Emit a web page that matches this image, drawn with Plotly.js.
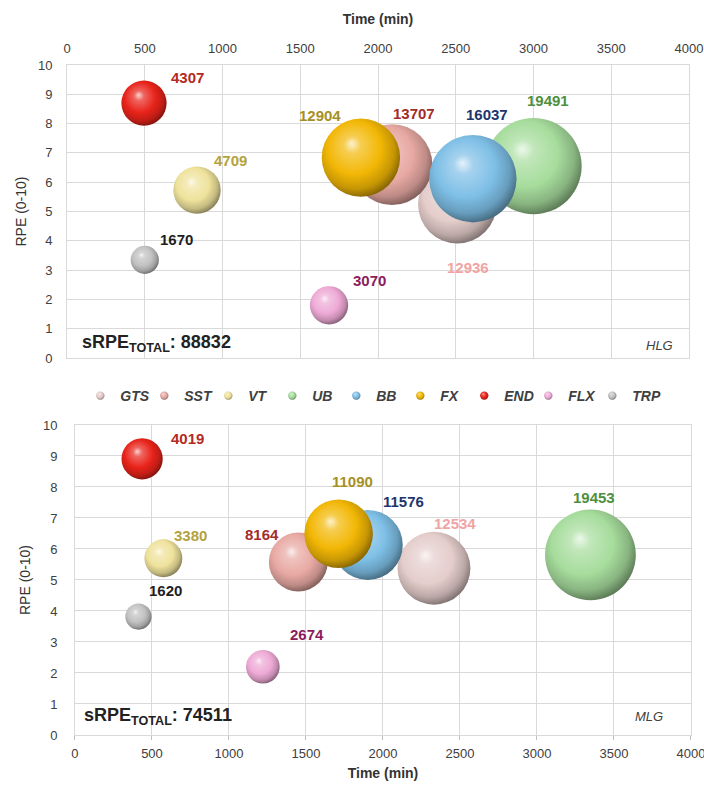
<!DOCTYPE html>
<html>
<head>
<meta charset="utf-8">
<script src="https://cdn.plot.ly/plotly-3.0.1.min.js"></script>
<style>
html, body { margin: 0; padding: 0; background: #ffffff; }
#chart { width: 704px; height: 787px; }
</style>
</head>
<body>
<div id="chart"></div>
<script>
// ---------- data ----------
const categories = ['GTS', 'SST', 'VT', 'UB', 'BB', 'FX', 'END', 'FLX', 'TRP'];

// HLG (top panel)
const hlgTime = [2510, 2090, 836, 3000, 2610, 1890, 495, 1685, 500];
const hlgRPE  = [5.25, 6.6, 5.73, 6.55, 6.12, 6.84, 8.7, 1.8, 3.35];
const hlgSRPE = [12936, 13707, 4709, 19491, 16037, 12904, 4307, 3070, 1670];
const hlgTotal = 88832;

// MLG (bottom panel)
const mlgTime = [2331, 1450, 574, 3347, 1901, 1712, 436, 1220, 412];
const mlgRPE  = [5.38, 5.58, 5.7, 5.81, 6.13, 6.49, 8.91, 2.2, 3.82];
const mlgSRPE = [12534, 8164, 3380, 19453, 11576, 11090, 4019, 2674, 1620];
const mlgTotal = 74511;

const groupNames = ['HLG', 'MLG'];
const xTitle = 'Time (min)';
const yTitle = 'RPE (0-10)';

// ---------- styles ----------
const FONT = '"Liberation Sans", Arial, sans-serif';
const baseColors  = ['#e4cdcb', '#e8a9a3', '#efe29c', '#a6dc9c', '#7ebfe6', '#f2b705', '#e8231a', '#eeaad6', '#c2c2c2'];
const labelColors = ['#f2a3a3', '#a22b2b', '#b5a23c', '#4e8f3e', '#22356b', '#a69024', '#b32b23', '#8c1c5c', '#1e1e1e'];
// label offsets in px [xshift, yshift] relative to bubble centre
const hlgLabelShift = [[11, -63], [22, 51], [33, 30], [14, 66], [14, 64], [-41, 42], [44, 26], [40, 25], [32, 20]];
const mlgLabelShift = [[21, 45], [-36, 28], [27, 23], [4, 57], [36, 43], [14, 52], [45, 20], [44, 32], [27, 26]];

function bubbleTraces(times, rpes, srpes, xa, ya, sizeref, showLegend) {
  return categories.map((c, i) => ({
    type: 'scatter',
    mode: 'markers',
    name: c,
    legendgroup: c,
    showlegend: showLegend,
    x: [times[i]],
    y: [rpes[i]],
    xaxis: xa,
    yaxis: ya,
    hoverinfo: 'skip',
    marker: {
      size: [srpes[i]],
      sizemode: 'area',
      sizeref: sizeref,
      color: baseColors[i],
      opacity: 1,
      line: { width: 0 },
      gradient: { type: 'radial', color: '#ffffff' }
    }
  }));
}

function valueLabels(times, rpes, srpes, xr, yr, shifts) {
  return categories.map((c, i) => ({
    x: times[i], y: rpes[i], xref: xr, yref: yr,
    text: String(srpes[i]),
    showarrow: false,
    xshift: shifts[i][0], yshift: shifts[i][1],
    font: { family: FONT, size: 15, weight: 'bold', color: labelColors[i] }
  }));
}

const traces = [].concat(
  bubbleTraces(hlgTime, hlgRPE, hlgSRPE, 'x', 'y', 4.2, true),
  bubbleTraces(mlgTime, mlgRPE, mlgSRPE, 'x2', 'y2', 4.72, false)
);

const gridColor = '#d9d9d9';
const tickFont = { family: FONT, size: 13, color: '#404040' };
const xTitleFont = { family: FONT, size: 14, weight: 'bold', color: '#333333' };
const yTitleFont = { family: FONT, size: 14, color: '#333333' };

function xAxis(domain, side, anchor, ticks, standoff, titleStandoff) {
  return {
    domain: domain, range: [0, 4000], dtick: 500, tick0: 0, side: side, anchor: anchor,
    showgrid: true, gridcolor: gridColor, gridwidth: 1, zeroline: false,
    showline: true, mirror: true, linecolor: gridColor, linewidth: 1,
    ticks: ticks, ticklen: 4, tickcolor: '#bfbfbf', ticklabelstandoff: standoff,
    ticklabeloverflow: 'allow',
    tickfont: tickFont, fixedrange: true,
    title: { text: xTitle, font: xTitleFont, standoff: titleStandoff }
  };
}
function yAxis(domain, anchor, standoff) {
  return {
    domain: domain, range: [0, 10], dtick: 1, tick0: 0, anchor: anchor,
    showgrid: true, gridcolor: gridColor, gridwidth: 1, zeroline: false,
    showline: true, mirror: true, linecolor: gridColor, linewidth: 1,
    ticks: '', ticklabelstandoff: standoff, ticklabeloverflow: 'allow',
    tickfont: tickFont, fixedrange: true,
    title: { text: yTitle, font: yTitleFont, standoff: 8 }
  };
}

const annotations = [].concat(
  valueLabels(hlgTime, hlgRPE, hlgSRPE, 'x', 'y', hlgLabelShift),
  valueLabels(mlgTime, mlgRPE, mlgSRPE, 'x2', 'y2', mlgLabelShift),
  [
    { xref: 'x domain', yref: 'y domain', x: 0.021, y: 0.051, xanchor: 'left', yanchor: 'middle',
      text: 'sRPE<sub>TOTAL</sub>: ' + hlgTotal, showarrow: false,
      font: { family: FONT, size: 18, weight: 'bold', color: '#222222' } },
    { xref: 'x2 domain', yref: 'y2 domain', x: 0.011, y: 0.059, xanchor: 'left', yanchor: 'middle',
      text: 'sRPE<sub>TOTAL</sub>: ' + mlgTotal, showarrow: false,
      font: { family: FONT, size: 18, weight: 'bold', color: '#222222' } },
    { xref: 'x domain', yref: 'y domain', x: 0.977, y: 0.044, xanchor: 'right', yanchor: 'middle',
      text: groupNames[0], showarrow: false,
      font: { family: FONT, size: 13, style: 'italic', color: '#404040' } },
    { xref: 'x2 domain', yref: 'y2 domain', x: 0.958, y: 0.059, xanchor: 'right', yanchor: 'middle',
      text: groupNames[1], showarrow: false,
      font: { family: FONT, size: 13, style: 'italic', color: '#404040' } }
  ]
);

const layout = {
  width: 704, height: 787,
  margin: { l: 0, r: 0, t: 0, b: 0, pad: 0 },
  paper_bgcolor: '#ffffff', plot_bgcolor: '#ffffff',
  font: { family: FONT, color: '#404040' },
  xaxis: xAxis([0.0952, 0.9787], 'top', 'y', '', 6, 12),
  yaxis: yAxis([0.5451, 0.9174], 'x', 11),
  xaxis2: xAxis([0.1065, 0.9815], 'bottom', 'y2', 'outside', 2, 8),
  yaxis2: yAxis([0.0661, 0.46], 'x2', 14),
  showlegend: true,
  legend: {
    orientation: 'h', x: 0.114, xanchor: 'left', y: 0.4968, yanchor: 'middle',
    bgcolor: 'rgba(0,0,0,0)', borderwidth: 0,
    itemsizing: 'constant', itemwidth: 30,
    entrywidth: 19, entrywidthmode: 'pixels',
    font: { family: FONT, size: 14, style: 'italic', weight: 'bold', color: '#404040' },
    itemclick: false, itemdoubleclick: false
  },
  annotations: annotations
};

// ---------- sphere shading ----------
function parseRGB(s) {
  const m = (s || '').match(/(\d+(\.\d+)?)/g);
  return m ? m.slice(0, 3).map(Number) : null;
}
function mix(a, b, f) {
  return 'rgb(' + a.map((v, k) => Math.round(v + (b[k] - v) * f)).join(',') + ')';
}
function shadeSpheres() {
  const NS = 'http://www.w3.org/2000/svg';
  document.querySelectorAll('radialGradient').forEach(g => {
    let base = null;
    g.querySelectorAll('stop').forEach(s => {
      const c = parseRGB(s.getAttribute('stop-color'));
      if (c && !(c[0] === 255 && c[1] === 255 && c[2] === 255)) base = c;
    });
    if (!base) return;
    while (g.firstChild) g.removeChild(g.firstChild);
    g.setAttribute('cx', '0.44'); g.setAttribute('cy', '0.42');
    g.setAttribute('r', '0.62');
    g.setAttribute('fx', '0.38'); g.setAttribute('fy', '0.32');
    const W = [255, 255, 255], K = [0, 0, 0];
    const spec = [[0, mix(base, W, 0.8)], [0.18, mix(base, W, 0.3)], [0.55, mix(base, W, 0.0)],
                  [0.8, mix(base, K, 0.18)], [1, mix(base, K, 0.5)]];
    spec.forEach(([o, col]) => {
      const st = document.createElementNS(NS, 'stop');
      st.setAttribute('offset', String(o));
      st.setAttribute('stop-color', col);
      g.appendChild(st);
    });
  });
  document.querySelectorAll('.legend .legendpoints path').forEach(p => {
    const t = p.getAttribute('transform') || '';
    p.setAttribute('transform', t + ' scale(0.7)');
  });
  // let the last legend entry's text run past the computed legend box
  document.querySelectorAll('.legend [clip-path]').forEach(e => e.removeAttribute('clip-path'));
}

Plotly.newPlot('chart', traces, layout, { displayModeBar: false, staticPlot: true })
  .then(shadeSpheres);
</script>
</body>
</html>
